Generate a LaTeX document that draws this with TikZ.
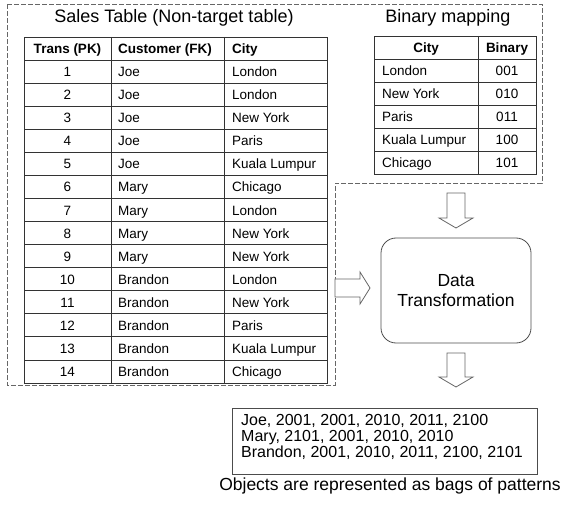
\documentclass[tikz,border=0pt]{standalone}
\usepackage{fontspec}
\setmainfont{Liberation Sans}
\usetikzlibrary{positioning, calc}

\begin{document}
\begin{tikzpicture}[
    x=1pt, y=-1pt,
    titletext/.style={inner sep=0pt, font=\fontsize{18}{20}\selectfont},
    celltext/.style={inner sep=0pt, font=\fontsize{13.5}{15}\selectfont},
    headtext/.style={inner sep=0pt, font=\fontsize{13.5}{15}\selectfont\bfseries},
    gridline/.style={draw=black!80, line width=0.9pt},
    regionline/.style={draw=black!60, dash pattern=on 5pt off 2pt, line width=0.8pt},
    blockarrow/.style={draw=black!60, fill=white, line width=0.8pt, line join=miter},
    procbox/.style={rectangle, rounded corners=15pt, draw=black!70, line width=0.8pt, minimum width=150pt, minimum height=105pt, align=center, font=\fontsize{17.5}{19.5}\selectfont},
    outbox/.style={rectangle, draw=black!70, line width=0.8pt, minimum width=305pt, minimum height=66pt, inner sep=0pt},
]
\useasboundingbox (0,0) rectangle (567,510);

% dashed region round both tables
\draw[regionline] (7,4) -- (542,4) -- (542,183) -- (335,183) -- (335,385) -- (7,385) -- cycle;

% titles
\node[titletext, anchor=base] (salestitle) at (174,23) {Sales Table (Non-target table)};
\node[titletext, anchor=base] (bintitle) at (448,23) {Binary mapping};

% sales table
\def\rh{23.07}
\draw[gridline] (24,37) rectangle (327,383);
\draw[gridline] (111,37) -- (111,383);
\draw[gridline] (224,37) -- (224,383);
\foreach \i in {1,...,14}
    \draw[gridline] (24,37+\i*\rh) -- (327,37+\i*\rh);
\node[headtext, anchor=base] (transhead) at (67.5,54) {Trans (PK)};
\node[headtext, anchor=base west] (custhead) at (118,54) {Customer (FK)};
\node[headtext, anchor=base west] (cityhead) at (232,54) {City};
\foreach \n/\cust/\city in {1/Joe/London, 2/Joe/London, 3/Joe/New York, 4/Joe/Paris, 5/Joe/Kuala Lumpur,
    6/Mary/Chicago, 7/Mary/London, 8/Mary/New York, 9/Mary/New York,
    10/Brandon/London, 11/Brandon/New York, 12/Brandon/Paris, 13/Brandon/Kuala Lumpur, 14/Brandon/Chicago} {
    \node[celltext, anchor=base] (trans\n) at (67.5,37+\n*\rh+0.5*\rh+5) {\n};
    \node[celltext, anchor=base west] (cust\n) at (118,37+\n*\rh+0.5*\rh+5) {\cust};
    \node[celltext, anchor=base west] (city\n) at (232,37+\n*\rh+0.5*\rh+5) {\city};
}

% binary mapping table
\draw[gridline] (374,36) rectangle (536,174);
\draw[gridline] (478,36) -- (478,174);
\foreach \i in {1,...,5}
    \draw[gridline] (374,36+\i*23) -- (536,36+\i*23);
\node[headtext, anchor=base] (bincityhead) at (426,53) {City};
\node[headtext, anchor=base] (bincodehead) at (507,53) {Binary};
\foreach \n/\city/\code in {1/London/001, 2/New York/010, 3/Paris/011, 4/Kuala Lumpur/100, 5/Chicago/101} {
    \node[celltext, anchor=base west] (bincity\n) at (382,36+\n*23+16.5) {\city};
    \node[celltext, anchor=base] (bincode\n) at (507,36+\n*23+16.5) {\code};
}

% transformation
\node[procbox] (transform) at (456,290.5) {Data\\Transformation};

% block arrows
\coordinate (downtop) at (456,193);
\draw[blockarrow] (downtop) ++(-9,0) -- ++(18,0) -- ++(0,25) -- ++(8,0) -- ++(-17,10) -- ++(-17,-10) -- ++(8,0) -- cycle;
\coordinate (rightback) at (335,288);
\draw[blockarrow] (rightback) ++(0,-9) -- ++(25,0) -- ++(0,-7) -- ++(10,16) -- ++(-10,16) -- ++(0,-7) -- ++(-25,0) -- cycle;
\coordinate (downbot) at (456,353);
\draw[blockarrow] (downbot) ++(-9,0) -- ++(18,0) -- ++(0,24) -- ++(8,0) -- ++(-17,10) -- ++(-17,-10) -- ++(8,0) -- cycle;

% bags of patterns
\node[outbox] (bags) at (384.5,441) {};
\node[anchor=north west, inner sep=0pt, align=left, font=\fontsize{16}{16}\selectfont] (bagtext) at (241,414)
    {Joe, 2001, 2001, 2010, 2011, 2100\\Mary, 2101, 2001, 2010, 2010\\Brandon, 2001, 2010, 2011, 2100, 2101};
\node[anchor=base, inner sep=0pt, font=\fontsize{17.5}{19}\selectfont] (caption) at (390,490) {Objects are represented as bags of patterns};
\end{tikzpicture}
\end{document}
